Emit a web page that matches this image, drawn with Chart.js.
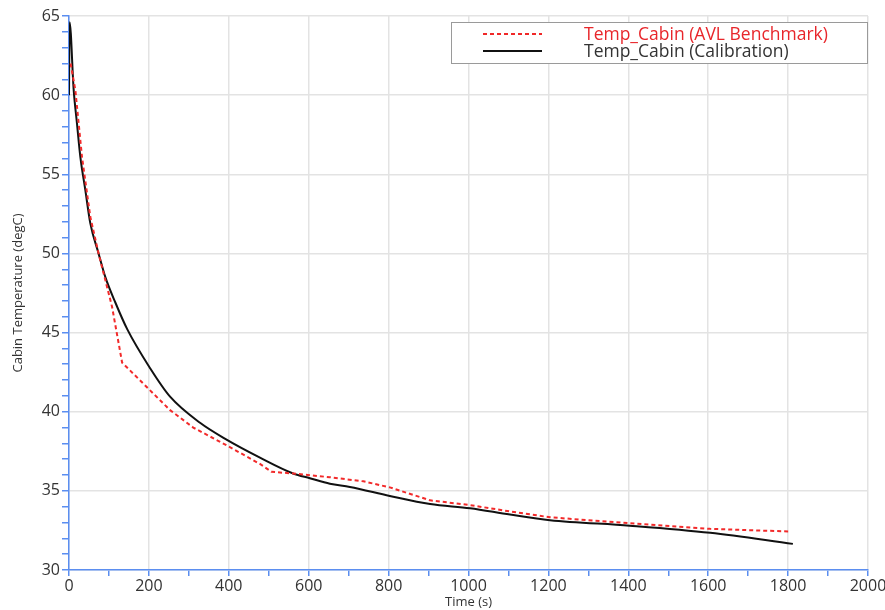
<!DOCTYPE html>
<html>
<head>
<meta charset="utf-8">
<script src="https://cdn.jsdelivr.net/npm/chart.js@4.4.1/dist/chart.umd.min.js"></script>
<style>
  html, body { margin: 0; padding: 0; background: #fff; }
  #wrap { width: 885px; height: 610px; }
</style>
</head>
<body>
<div id="wrap"><canvas id="cabinChart"></canvas></div>
<script>
// values
var benchTime = [4, 16, 32.5, 53.4, 74, 107.6, 133, 199, 253, 311, 400, 478, 507, 561, 653, 737, 803, 904, 1004, 1104, 1204, 1404, 1605, 1805];
var benchTemp = [62.0, 60.3, 56.1, 52.3, 50.0, 46.65, 43.1, 41.45, 40.1, 39.0, 37.8, 36.7, 36.2, 36.1, 35.86, 35.6, 35.22, 34.4, 34.1, 33.7, 33.33, 32.95, 32.6, 32.43];

var calTime = [0, 1.5, 11.7, 20, 28.4, 40.9, 53.4, 74, 91, 116, 146, 203, 253, 328, 390, 478, 561, 603, 653, 703, 803, 904, 1004, 1104, 1204, 1404, 1605, 1812];
var calTemp = [60.0, 64.6, 60.33, 58.2, 56.1, 54.0, 51.9, 50.0, 48.5, 46.9, 45.2, 42.75, 40.95, 39.3, 38.3, 37.1, 36.1, 35.8, 35.45, 35.25, 34.68, 34.17, 33.9, 33.5, 33.15, 32.8, 32.35, 31.65];

var seriesNames = ['Temp_Cabin (AVL Benchmark)', 'Temp_Cabin (Calibration)'];
var xMajor = 200, yMajor = 5;

function pts(xs, ys) {
  return xs.map(function (x, i) { return { x: x, y: ys[i] }; });
}

var axisBlue = '#5b8ef0';
var gridGray = '#e3e3e3';

// legend box in the top right corner
var boxLegend = {
  id: 'boxLegend',
  afterDraw: function (chart) {
    var c = chart.ctx;
    var x0 = 451, y0 = 22, w = 416, h = 41;
    c.save();
    c.fillStyle = '#fff';
    c.fillRect(x0, y0, w, h);
    c.strokeStyle = '#9a9a9a';
    c.lineWidth = 1;
    c.strokeRect(x0 + 0.5, y0 + 0.5, w, h);
    var rows = [
      { y: 34, color: '#f02828', dash: [4, 3], text: '#e8262b' },
      { y: 51, color: '#111', dash: [], text: '#333' }
    ];
    c.font = '17.5px "Open Sans"';
    c.textBaseline = 'middle';
    rows.forEach(function (r, i) {
      c.beginPath();
      c.setLineDash(r.dash);
      c.strokeStyle = r.color;
      c.lineWidth = 2;
      c.moveTo(483, r.y);
      c.lineTo(542, r.y);
      c.stroke();
      c.setLineDash([]);
      c.fillStyle = r.text;
      c.fillText(seriesNames[i], 584, r.y + 1);
    });
    c.restore();
  }
};

var ctx = document.getElementById('cabinChart').getContext('2d');
var cabinChart = new Chart(ctx, {
  type: 'line',
  data: {
    datasets: [{
      label: seriesNames[0],
      data: pts(benchTime, benchTemp),
      borderColor: '#f22a2a',
      borderWidth: 2,
      borderDash: [4, 3],
      pointRadius: 0,
      tension: 0,
      fill: false
    }, {
      label: seriesNames[1],
      data: pts(calTime, calTemp),
      borderColor: '#111111',
      borderWidth: 2,
      pointRadius: 0,
      cubicInterpolationMode: 'monotone',
      fill: false
    }]
  },
  options: {
    responsive: true,
    maintainAspectRatio: false,
    animation: false,
    layout: { padding: { left: 0, right: 17, top: 16, bottom: 0 } },
    plugins: {
      legend: { display: false },
      tooltip: { enabled: false }
    },
    scales: {
      x: {
        type: 'linear',
        min: 0,
        max: 2000,
        border: { color: axisBlue, width: 1.5 },
        grid: {
          color: function (c) { return c.tick && c.tick.value % xMajor === 0 ? gridGray : 'rgba(0,0,0,0)'; },
          tickColor: axisBlue,
          tickLength: 6,
          lineWidth: 1.5
        },
        ticks: {
          stepSize: 100,
          autoSkip: false,
          maxRotation: 0,
          padding: 1,
          color: '#333',
          font: { family: '"Open Sans"', size: 16 },
          callback: function (v) { return v % xMajor === 0 ? v : ''; }
        },
        title: {
          display: true,
          text: 'Time (s)',
          color: '#333',
          font: { family: '"Open Sans"', size: 13 },
          padding: { top: 0, bottom: 0 }
        },
        afterFit: function (s) { s.height = 40; s.paddingLeft = 0; s.paddingRight = 0; }
      },
      y: {
        min: 30,
        max: 65,
        border: { color: axisBlue, width: 1.5 },
        grid: {
          color: function (c) { return c.tick && c.tick.value % yMajor === 0 ? gridGray : 'rgba(0,0,0,0)'; },
          tickColor: axisBlue,
          tickLength: 7,
          lineWidth: 1.5
        },
        ticks: {
          stepSize: 1,
          autoSkip: false,
          padding: 2,
          color: '#333',
          font: { family: '"Open Sans"', size: 16 },
          callback: function (v) { return v % yMajor === 0 ? v : ''; }
        },
        title: {
          display: true,
          text: 'Cabin Temperature (degC)',
          color: '#333',
          font: { family: '"Open Sans"', size: 13 },
          padding: { top: 10, bottom: 0 }
        },
        afterFit: function (s) { s.width = 69; s.paddingTop = 0; s.paddingBottom = 0; }
      }
    }
  },
  plugins: [boxLegend]
});
</script>
</body>
</html>
